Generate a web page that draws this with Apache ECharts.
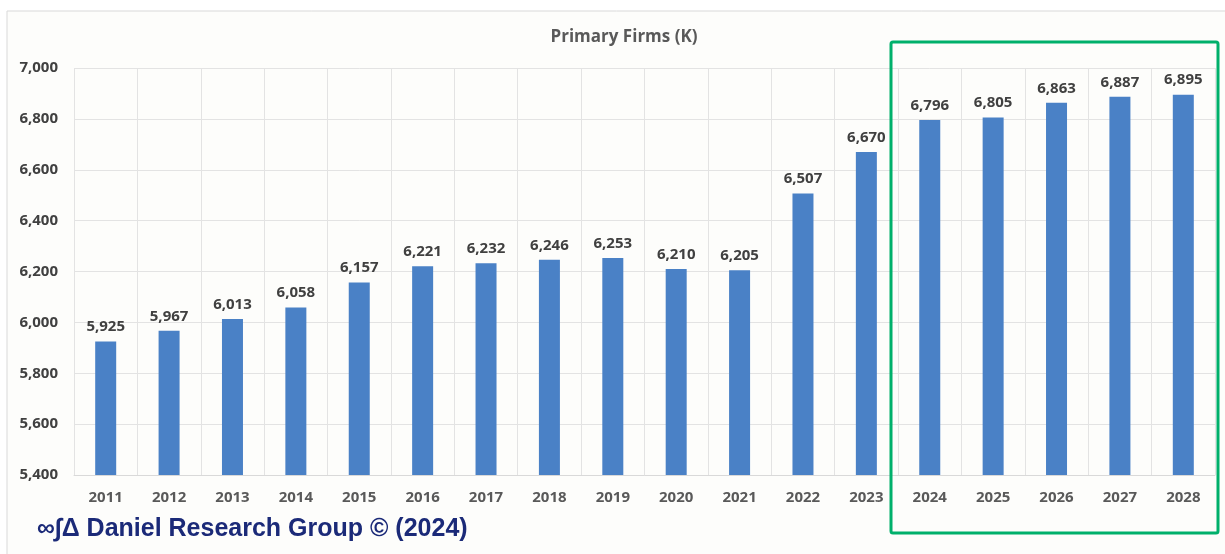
<!DOCTYPE html>
<html><head><meta charset="utf-8">
<script src="https://cdn.jsdelivr.net/npm/echarts@6/dist/echarts.min.js"></script>
<style>html,body{margin:0;padding:0;background:#fff;}#c{width:1225px;height:554px;}</style>
</head><body><div id="c"></div>
<script>
const years = ['2011','2012','2013','2014','2015','2016','2017','2018','2019','2020','2021','2022','2023','2024','2025','2026','2027','2028'];
const firms = [5925,5967,6013,6058,6157,6221,6232,6246,6253,6210,6205,6507,6670,6796,6805,6863,6887,6895];
const chartTitle = 'Primary Firms (K)';
const credit = '∞∫Δ Daniel Research Group © (2024)';

const chart = echarts.init(document.getElementById('c'), null, {renderer:'canvas'});
const fmt = v => v.toLocaleString('en-US');
chart.setOption({
  backgroundColor:'#ffffff',
  animation:false,
  title:{text:chartTitle,left:619,top:24,textAlign:'center',
    textStyle:{fontFamily:'Open Sans',fontSize:17,fontWeight:'bold',color:'#595959'}},
  grid:{left:74,right:10,top:68,bottom:79},
  xAxis:{type:'category',data:years,
    axisLine:{show:true,lineStyle:{color:'#d9d9d9'}},axisTick:{show:false},
    splitLine:{show:true,lineStyle:{color:'#e3e3e3'}},
    axisLabel:{margin:15,fontFamily:'Open Sans',fontSize:15,fontWeight:'bold',color:'#595959'}},
  yAxis:{type:'value',min:5400,max:7000,interval:200,
    axisLine:{show:false},axisTick:{show:false},
    splitLine:{lineStyle:{color:'#e3e3e3'}},
    axisLabel:{margin:16,formatter:fmt,fontFamily:'Open Sans',fontSize:15,fontWeight:'bold',color:'#404040'}},
  series:[{type:'bar',data:firms,barWidth:21,
    itemStyle:{color:'#4a81c6'},
    label:{show:true,position:'top',distance:7,formatter:p=>fmt(p.value),
      fontFamily:'Open Sans',fontSize:15,fontWeight:'bold',color:'#404040'}}],
  graphic:[
    {type:'rect',z:-10,shape:{x:7,y:11,width:1230,height:560},style:{fill:'#fdfdfb',stroke:'#d9d9d9',lineWidth:1}},
    {type:'rect',z:100,shape:{x:891,y:42,width:327,height:491,r:2},style:{fill:'none',stroke:'#00b06b',lineWidth:3}},
    {type:'text',left:37,top:517,z:100,style:{text:credit,font:'bold 25px "Liberation Sans", Arial',fill:'#1b2a78'}}
  ]
});
</script></body></html>
